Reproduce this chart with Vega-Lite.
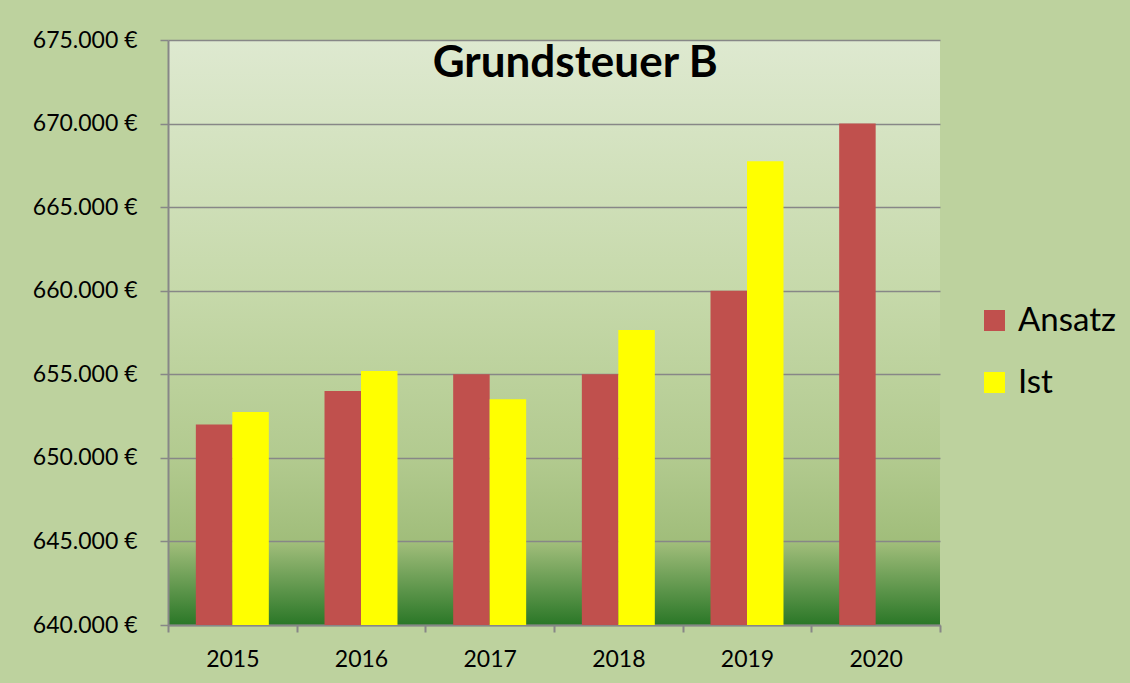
{
  "$schema": "https://vega.github.io/schema/vega-lite/v6.json",
  "width": 772,
  "height": 585,
  "autosize": {"type": "none"},
  "padding": {"left": 168, "top": 40, "right": 190, "bottom": 58},
  "background": "#BDD29E",
  "data": {
    "values": [
      {"year": "2015", "series": "Ansatz", "value": 652000},
      {"year": "2015", "series": "Ist", "value": 652750},
      {"year": "2016", "series": "Ansatz", "value": 654000},
      {"year": "2016", "series": "Ist", "value": 655200},
      {"year": "2017", "series": "Ansatz", "value": 655000},
      {"year": "2017", "series": "Ist", "value": 653500},
      {"year": "2018", "series": "Ansatz", "value": 655000},
      {"year": "2018", "series": "Ist", "value": 657650},
      {"year": "2019", "series": "Ansatz", "value": 660000},
      {"year": "2019", "series": "Ist", "value": 667750},
      {"year": "2020", "series": "Ansatz", "value": 670000}
    ]
  },
  "layer": [
    {
      "mark": {"type": "bar", "clip": true},
      "encoding": {
        "x": {
          "field": "year",
          "type": "nominal",
          "scale": {"paddingInner": 0, "paddingOuter": 0},
          "axis": {
            "title": null,
            "tickBand": "extent",
            "labelAngle": 0,
            "grid": false,
            "domainColor": "#878787",
            "domainWidth": 2,
            "tickColor": "#878787",
            "tickSize": 7,
            "tickWidth": 2,
            "labelFont": "Lato",
            "labelFontSize": 23,
            "labelColor": "#000000",
            "labelPadding": 16
          }
        },
        "xOffset": {
          "field": "series",
          "type": "nominal",
          "scale": {"paddingInner": 0, "paddingOuter": 0.763}
        },
        "y": {
          "field": "value",
          "type": "quantitative",
          "scale": {"domain": [640000, 675000], "zero": false, "nice": false},
          "axis": {
            "title": null,
            "values": [640000, 645000, 650000, 655000, 660000, 665000, 670000, 675000],
            "labelExpr": "replace(format(datum.value, ',.0f'), ',', '.') + ' €'",
            "grid": true,
            "gridColor": "#878787",
            "gridWidth": 1.5,
            "domainColor": "#878787",
            "domainWidth": 2,
            "tickColor": "#878787",
            "tickSize": 8,
            "tickWidth": 1.5,
            "labelFont": "Lato",
            "labelFontSize": 23,
            "labelColor": "#000000",
            "labelPadding": 23
          }
        },
        "color": {
          "field": "series",
          "type": "nominal",
          "scale": {"domain": ["Ansatz", "Ist"], "range": ["#C0504D", "#FFFF00"]},
          "legend": {
            "title": null,
            "orient": "none",
            "legendX": 810,
            "legendY": 264,
            "symbolType": "square",
            "symbolSize": 441,
            "symbolStrokeWidth": 0,
            "symbolOpacity": 1,
            "labelFont": "Lato",
            "labelFontSize": 33,
            "labelColor": "#000000",
            "labelOffset": 7,
            "rowPadding": 28
          }
        }
      }
    },
    {
      "data": {"values": [{"label": "Grundsteuer B"}]},
      "mark": {
        "type": "text",
        "font": "Lato",
        "fontSize": 44,
        "fontWeight": "bold",
        "color": "#000000",
        "align": "center",
        "baseline": "alphabetic"
      },
      "encoding": {
        "x": {"datum": "2018", "type": "nominal", "bandPosition": 0.165},
        "y": {"datum": 672786, "type": "quantitative"},
        "text": {"field": "label", "type": "nominal"}
      }
    }
  ],
  "config": {
    "view": {
      "stroke": null,
      "fill": {
        "gradient": "linear",
        "x1": 0, "y1": 0, "x2": 0, "y2": 1,
        "stops": [
          {"offset": 0, "color": "#DEE9D0"},
          {"offset": 0.43, "color": "#C6D9AA"},
          {"offset": 0.715, "color": "#B2CA8F"},
          {"offset": 0.86, "color": "#A0BD7A"},
          {"offset": 1, "color": "#2A7727"}
        ]
      }
    }
  }
}
